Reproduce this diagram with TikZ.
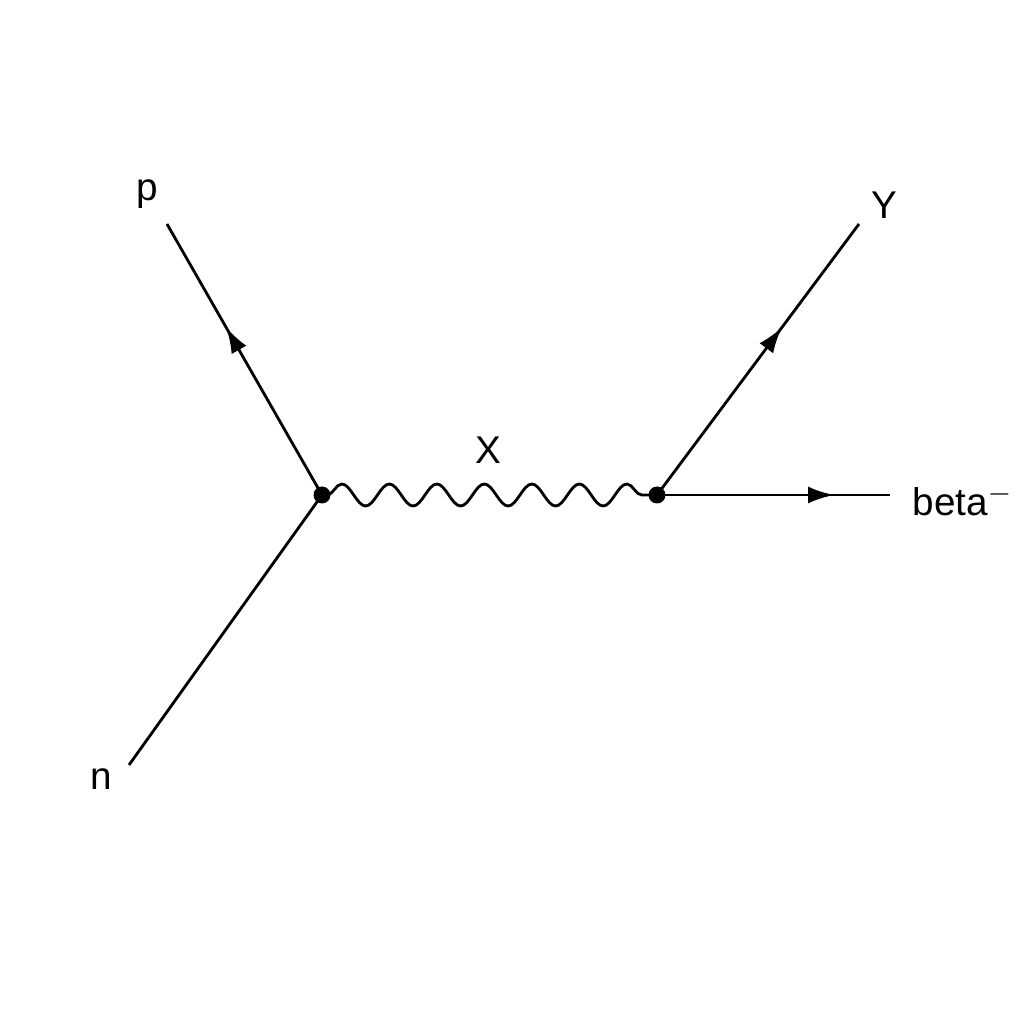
\documentclass[tikz,border=0pt]{standalone}
\usepackage{fontspec}
\setmainfont{Liberation Sans}
\usetikzlibrary{arrows.meta,decorations.pathmorphing,decorations.markings}
\tikzset{
  fermion/.style={line width=0.8pt,postaction={decorate},
    decoration={markings,mark=at position #1 with {\arrow{Latex[length=2.6mm,width=1.7mm]}}}},
  boson/.style={line width=0.8pt,decorate,
    decoration={snake,segment length=4.75mm,amplitude=1.1mm,pre length=0.5mm,post length=0.3mm}},
  vertexdot/.style={circle,fill=black,inner sep=0pt,minimum size=1.7mm},
  lbl/.style={font=\fontsize{11}{13}\selectfont,inner sep=0pt}
}
\begin{document}
\begin{tikzpicture}
\useasboundingbox (0,0) rectangle (10.24,10.24);
\coordinate (vA) at (3.22,5.29);
\coordinate (vB) at (6.57,5.29);
\coordinate (pend) at (1.67,8.00);
\coordinate (nend) at (1.29,2.59);
\coordinate (yend) at (8.59,8.00);
\coordinate (bend) at (8.90,5.29);
\draw [line width=0.8pt] (nend) -- (vA);
\draw [fermion=0.62] (vA) -- (pend);
\draw [fermion=0.62] (vB) -- (yend);
\draw [fermion=0.76] (vB) -- (bend);
\draw [boson] (vA) -- (vB);
\node [vertexdot] (dotA) at (vA) {};
\node [vertexdot] (dotB) at (vB) {};
\node [lbl] (labp) at (1.47,8.30) {p};
\node [lbl] (labn) at (1.01,2.45) {n};
\node [lbl] (laby) at (8.84,8.19) {Y};
\node [lbl] (labx) at (4.88,5.74) {X};
\node [lbl,anchor=west] (labb) at (9.12,5.24) {beta$^{-}$};
\end{tikzpicture}
\end{document}
